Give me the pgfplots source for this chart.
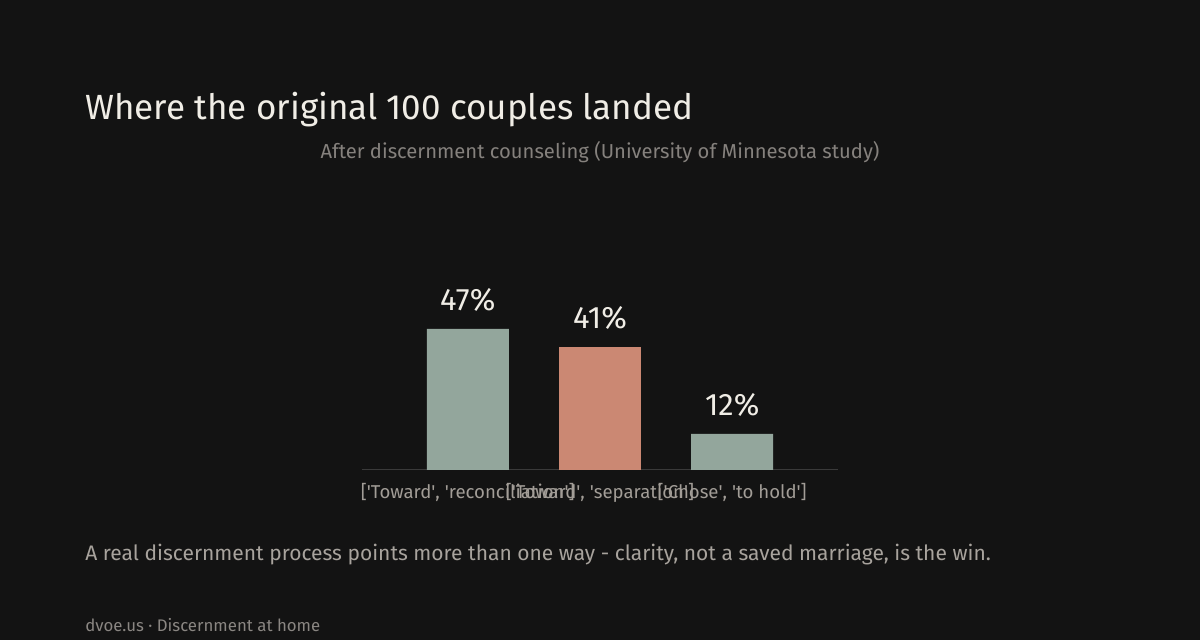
\documentclass[border=0pt]{standalone}
\usepackage{pgfplots}
\pgfplotsset{compat=1.18}
\usepackage{fontspec}
\setmainfont{Fira Sans}
\setsansfont{Fira Sans}

\definecolor{bg}{HTML}{131313}
\definecolor{titlecol}{HTML}{F0EDE6}
\definecolor{subcol}{HTML}{85817D}
\definecolor{tickcol}{HTML}{A29D97}
\definecolor{notecol}{HTML}{A8A39D}
\definecolor{srccol}{HTML}{8A8682}
\definecolor{sage}{HTML}{93A69C}
\definecolor{clay}{HTML}{CB8873}
\definecolor{basecol}{HTML}{3A3A3A}

\newcommand{\q}{\textquotesingle}

\begin{document}
\begin{tikzpicture}
% page: 1200 x 640 px, 1 px = 0.5pt
\fill[bg] (0,0) rectangle (600pt,320pt);

\node[anchor=base west, inner sep=0, text=titlecol, font=\fontsize{17.5pt}{20pt}\selectfont]
  at (42.5pt,260pt) {Where the original 100 couples landed};
\node[anchor=base, inner sep=0, text=subcol, font=\fontsize{10.1pt}{12pt}\selectfont]
  at (300pt,240.5pt) {After discernment counseling (University of Minnesota study)};

\begin{axis}[
    at={(181pt,85pt)}, anchor=south west,
    scale only axis,
    width=238pt, height=90pt,
    xmin=-0.8, xmax=2.8,
    ymin=0, ymax=60,
    ybar, bar width=41pt, bar shift=0pt,
    axis x line=bottom,
    axis y line=none,
    axis line style={basecol, line width=0.5pt, -},
    xtick={0,1,2},
    xticklabels={{[\q Toward\q, \q reconciliation\q]},{[\q Toward\q, \q separation\q]},{[\q Chose\q, \q to hold\q]}},
    major tick length=0pt,
    xticklabel style={text=tickcol, font=\fontsize{9.3pt}{11pt}\selectfont, anchor=base, yshift=-14.5pt},
    /pgf/number format/assume math mode=true,
    nodes near coords={\pgfmathprintnumber{\pgfplotspointmeta}\%},
    nodes near coords style={text=titlecol, font=\fontsize{15.5pt}{17pt}\selectfont, anchor=base, yshift=9pt, inner sep=0},
    clip=false,
]
\addplot[fill=sage, draw=none] coordinates {(0,47) (2,12)};
\addplot[fill=clay, draw=none] coordinates {(1,41)};
\end{axis}

\node[anchor=base west, inner sep=0, text=notecol, font=\fontsize{10.5pt}{12pt}\selectfont]
  at (42.5pt,39.5pt) {A real discernment process points more than one way - clarity, not a saved marriage, is the win.};
\node[anchor=base west, inner sep=0, text=srccol, font=\fontsize{8.4pt}{10pt}\selectfont]
  at (42.5pt,4pt) {dvoe.us · Discernment at home};
\end{tikzpicture}
\end{document}
